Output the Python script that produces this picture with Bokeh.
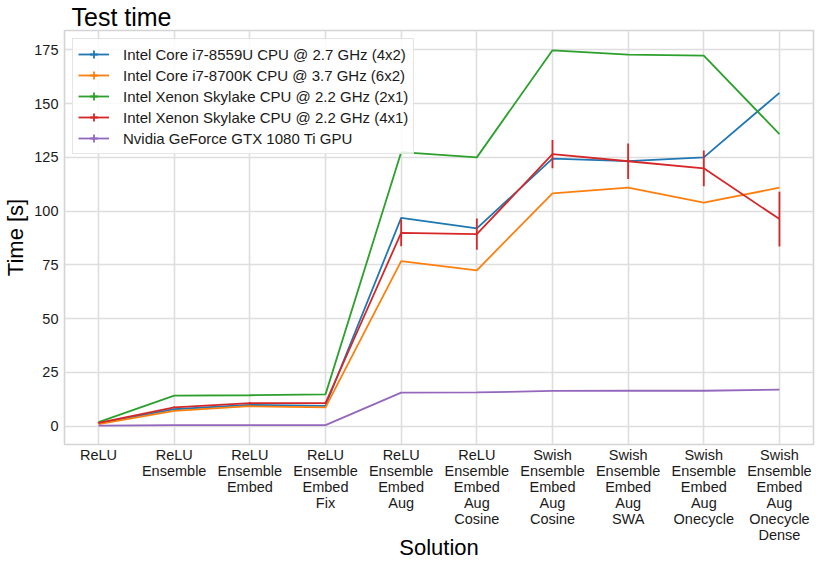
from bokeh.plotting import figure
from bokeh.models import ColumnDataSource, Legend, LegendItem, FixedTicker, Range1d
from bokeh.embed import file_html
from bokeh.resources import INLINE

categories = [
    "ReLU",
    "ReLU\nEnsemble",
    "ReLU\nEnsemble\nEmbed",
    "ReLU\nEnsemble\nEmbed\nFix",
    "ReLU\nEnsemble\nEmbed\nAug",
    "ReLU\nEnsemble\nEmbed\nAug\nCosine",
    "Swish\nEnsemble\nEmbed\nAug\nCosine",
    "Swish\nEnsemble\nEmbed\nAug\nSWA",
    "Swish\nEnsemble\nEmbed\nAug\nOnecycle",
    "Swish\nEnsemble\nEmbed\nAug\nOnecycle\nDense",
]

series_names = [
    "Intel Core i7-8559U CPU @ 2.7 GHz (4x2)",
    "Intel Core i7-8700K CPU @ 3.7 GHz (6x2)",
    "Intel Xenon Skylake CPU @ 2.2 GHz (2x1)",
    "Intel Xenon Skylake CPU @ 2.2 GHz (4x1)",
    "Nvidia GeForce GTX 1080 Ti GPU",
]
colors = ["#1f77b4", "#ff7f0e", "#2ca02c", "#d62728", "#9467bd"]

i7_8559u = [1.3, 7.9, 9.9, 9.5, 96.9, 92.0, 124.4, 123.3, 125.0, 155.0]
i7_8700k = [1.0, 7.1, 9.3, 8.8, 76.8, 72.5, 108.3, 110.9, 104.0, 110.9]
xenon_2x1 = [1.9, 14.2, 14.4, 14.8, 127.4, 125.0, 174.8, 172.8, 172.3, 135.8]
xenon_4x1 = [1.6, 8.8, 10.7, 10.8, 89.9, 89.3, 126.5, 123.2, 119.9, 96.3]
gtx_1080ti = [0.3, 0.5, 0.5, 0.5, 15.6, 15.7, 16.4, 16.5, 16.5, 17.0]

i7_8559u_err = [0, 0, 0, 0, 0, 0, 0, 0, 0, 0]
i7_8700k_err = [0, 0, 0, 0, 0, 0, 0, 0, 0, 0]
xenon_2x1_err = [0, 0, 0, 0, 0, 0, 0, 0, 0, 0]
xenon_4x1_err = [0.2, 0.4, 0.5, 0.5, 6.2, 7.3, 6.6, 8.2, 8.3, 12.7]
gtx_1080ti_err = [0, 0, 0, 0, 0, 0, 0, 0, 0, 0]

y_ticks = [0, 25, 50, 75, 100, 125, 150, 175]

values = [i7_8559u, i7_8700k, xenon_2x1, xenon_4x1, gtx_1080ti]
errors = [i7_8559u_err, i7_8700k_err, xenon_2x1_err, xenon_4x1_err, gtx_1080ti_err]

FONT = "Liberation Sans"

p = figure(
    width=815, height=562,
    x_range=Range1d(-0.45, len(categories) - 1 + 0.45),
    y_range=Range1d(-8.5, 184),
    output_backend="svg", toolbar_location=None,
    min_border_left=0, min_border_right=2, min_border_top=0, min_border_bottom=0,
)

p.title.text = "Test time"
p.title.text_font = FONT
p.title.text_font_size = "25px"
p.title.text_font_style = "normal"
p.title.align = "left"
p.title.offset = 7
p.title.standoff = 0
p.title.text_color = "black"

xs = list(range(len(categories)))
items = []
for name, col, ys, errs in zip(series_names, colors, values, errors):
    src = ColumnDataSource(dict(
        x=xs, y=ys,
        lo=[v - e for v, e in zip(ys, errs)],
        hi=[v + e for v, e in zip(ys, errs)],
    ))
    lr = p.line("x", "y", source=src, line_color=col, line_width=1.8)
    er = p.segment(x0="x", y0="lo", x1="x", y1="hi", source=src,
                   line_color=col, line_width=1.8)
    mk = p.scatter("x", "y", source=src, marker="cross", size=0,
                   line_color=col, line_width=1.8)
    items.append(LegendItem(label=name, renderers=[lr, mk]))

legend = Legend(items=items, location="top_left")
legend.margin = 8
legend.padding = 5
legend.spacing = 1
legend.glyph_width = 31
legend.glyph_height = 20
legend.label_height = 20
legend.label_standoff = 14
legend.label_text_font = FONT
legend.label_text_font_size = "15px"
legend.label_text_color = "#1a1a1a"
legend.border_line_color = "#cccccc"
legend.border_line_width = 1
legend.background_fill_color = "white"
legend.background_fill_alpha = 0.85
p.add_layout(legend, "center")

# axes
p.xaxis.ticker = FixedTicker(ticks=xs)
p.xaxis.major_label_overrides = {i: c for i, c in enumerate(categories)}
p.yaxis.ticker = FixedTicker(ticks=y_ticks)

for ax in (p.xaxis[0], p.yaxis[0]):
    ax.axis_line_color = None
    ax.major_tick_line_color = None
    ax.minor_tick_line_color = None
    ax.major_tick_out = 0
    ax.major_tick_in = 0
    ax.major_label_text_font = FONT
    ax.major_label_text_font_size = "14.5px"
    ax.major_label_text_color = "#1a1a1a"
    ax.axis_label_text_font = FONT
    ax.axis_label_text_font_size = "22px"
    ax.axis_label_text_font_style = "normal"
    ax.axis_label_text_color = "black"

p.xaxis.axis_label = "Solution"
p.yaxis.axis_label = "Time [s]"
p.xaxis.major_label_standoff = 2
p.xaxis.axis_label_standoff = -11
p.xaxis.major_label_text_line_height = 1.0
p.yaxis.major_label_standoff = 6
p.yaxis.axis_label_standoff = 3

p.xgrid.grid_line_color = "#dedede"
p.ygrid.grid_line_color = "#dedede"
p.xgrid.grid_line_width = 1.6
p.ygrid.grid_line_width = 1.6
p.outline_line_color = "#d4d4d4"
p.outline_line_width = 1.6
p.background_fill_color = "white"
p.border_fill_color = "white"

open("out.html", "w").write(file_html(p, INLINE))
